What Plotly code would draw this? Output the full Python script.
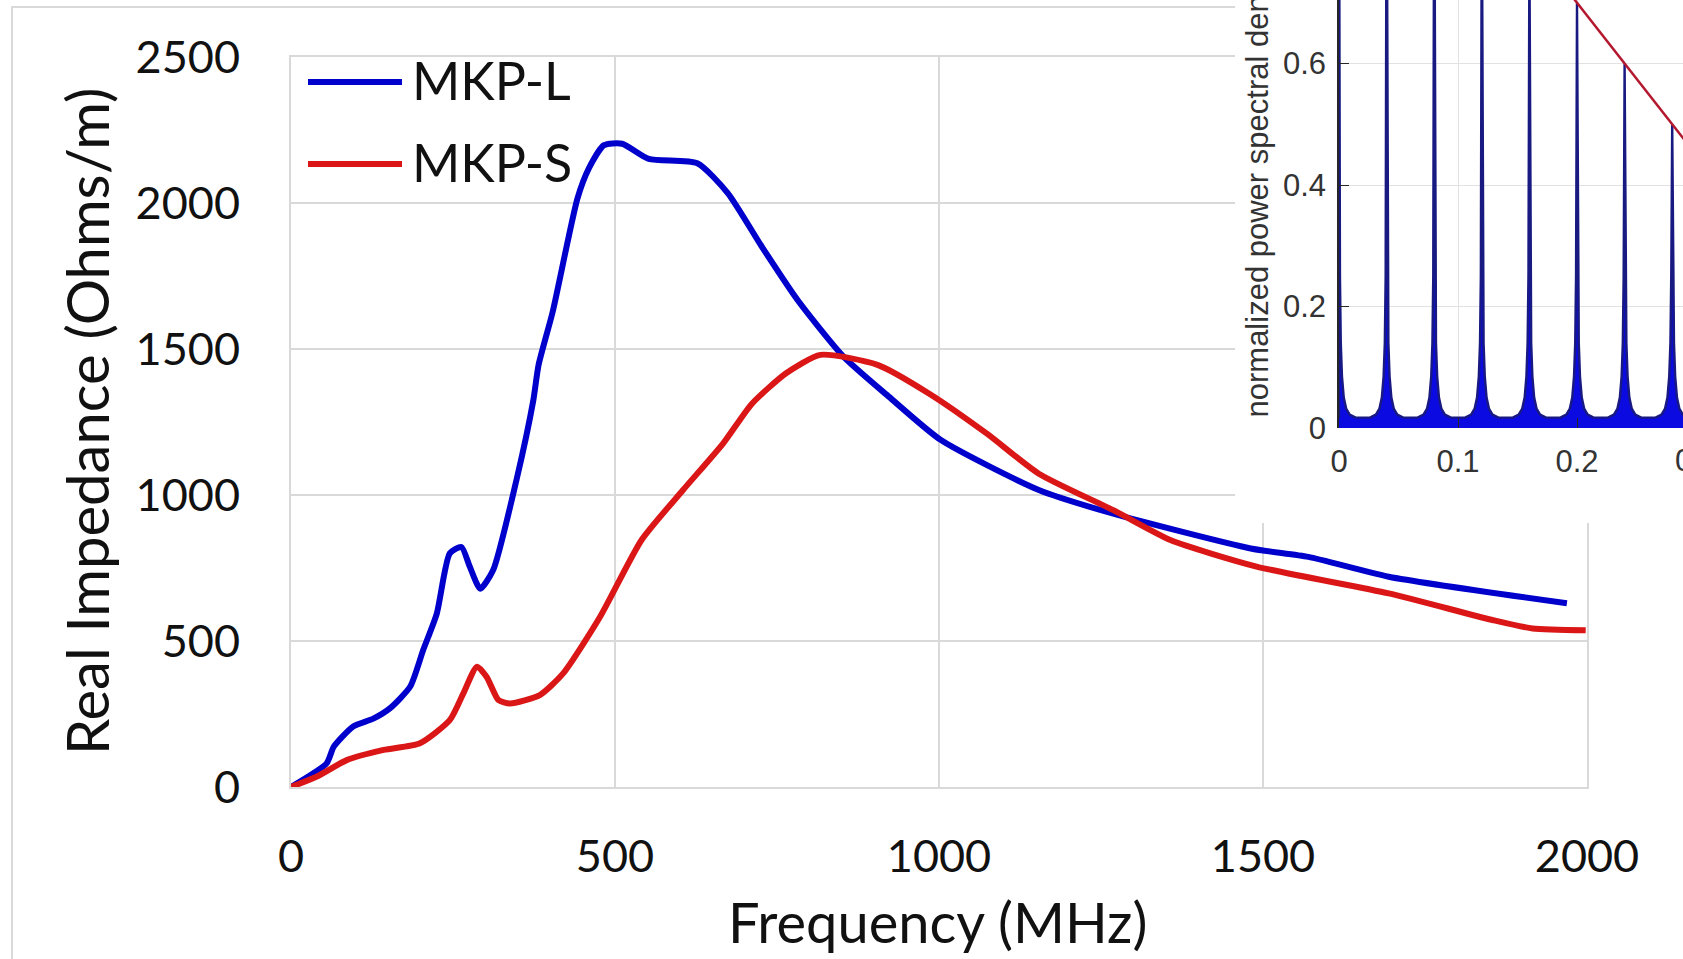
import plotly.graph_objects as go

W, H = 1683, 959

# ---------------- main chart data ----------------
mkp_l_freq = [0, 55, 66, 96, 127, 153, 184, 204, 225, 245, 263, 276, 292, 312, 348, 374, 382, 404,
              442, 460, 483, 511, 552, 627, 674, 727, 782, 853, 923, 1003, 1154, 1269, 1481, 1570,
              1694, 1969]
mkp_l_val = [0, 81, 138, 207, 234, 270, 344, 469, 594, 800, 822, 754, 679, 743, 1052, 1325, 1445, 1629,
             2015, 2120, 2198, 2203, 2151, 2136, 2034, 1849, 1667, 1473, 1336, 1188, 1017, 936, 817, 788,
             720, 629]

mkp_s_freq = [0, 40, 86, 143, 199, 245, 266, 287, 302, 320, 338, 384, 420, 477, 541, 605, 667, 711,
              764, 817, 906, 985, 1074, 1154, 1269, 1357, 1490, 1694, 1854, 1916, 1998]
mkp_s_val = [0, 36, 92, 127, 150, 229, 321, 412, 377, 298, 286, 315, 389, 583, 846, 1017, 1177, 1312,
             1417, 1480, 1445, 1347, 1210, 1073, 948, 846, 755, 663, 572, 543, 537]

x_ticks = [0, 500, 1000, 1500, 2000]
y_ticks = [0, 500, 1000, 1500, 2000, 2500]
series_names = ["MKP-L", "MKP-S"]

# ---------------- inset data ----------------
spike_pos = [0.0, 0.04, 0.08, 0.12, 0.16, 0.20, 0.24, 0.28]
spike_peak = [1.0, 1.0, 1.0, 0.9, 0.8, 0.70, 0.60, 0.50]
envelope_x = [0.15, 0.20, 0.24, 0.28, 0.30]
envelope_y = [0.825, 0.70, 0.60, 0.50, 0.45]
inset_floor = 0.017
inset_xticks = [0, 0.1, 0.2]
inset_yticks = [0, 0.2, 0.4, 0.6]

# spike profile (style): offset from spike centre -> height
prof_off = [0.014, 0.009, 0.006, 0.004, 0.0025, 0.0015, 0.0008]
prof_h = [inset_floor, 0.022, 0.032, 0.05, 0.085, 0.14, 0.25]

sx, sy = [0.0], [inset_floor]
for p, pk in zip(spike_pos, spike_peak):
    for o, h in zip(prof_off, prof_h):
        if p - o >= 0:
            sx.append(p - o); sy.append(h)
    sx.append(p); sy.append(pk)
    for o, h in zip(reversed(prof_off), reversed(prof_h)):
        sx.append(p + o); sy.append(h)
sx.append(0.30); sy.append(inset_floor)

def px(x):
    return x / W

def py(y):
    return 1 - y / H

BLUE = "rgb(0,0,205)"
RED = "rgb(218,22,22)"
GRID = "#d9d9d9"
FONT = "Lato"

fig = go.Figure()

fig.add_trace(go.Scatter(x=mkp_l_freq, y=mkp_l_val, mode="lines", name=series_names[0],
                         line=dict(color=BLUE, width=6, shape="spline", smoothing=0.6),
                         xaxis="x", yaxis="y", showlegend=False))
fig.add_trace(go.Scatter(x=mkp_s_freq, y=mkp_s_val, mode="lines", name=series_names[1],
                         line=dict(color=RED, width=6, shape="spline", smoothing=0.6),
                         xaxis="x", yaxis="y", showlegend=False))

# blocker subplot (white area of pasted inset)
fig.add_trace(go.Scatter(x=[None], y=[None], xaxis="x2", yaxis="y2", showlegend=False))

# inset
fig.add_trace(go.Scatter(x=sx, y=sy, mode="lines", fill="tozeroy",
                         fillcolor="rgb(10,10,225)",
                         line=dict(color="rgb(25,25,130)", width=2.4),
                         xaxis="x3", yaxis="y3", showlegend=False))
fig.add_trace(go.Scatter(x=envelope_x, y=envelope_y, mode="lines",
                         line=dict(color="#b3182e", width=2.5),
                         xaxis="x3", yaxis="y3", showlegend=False))

hidden = dict(showgrid=False, zeroline=False, showticklabels=False, showline=False, ticks="")

fig.update_layout(
    width=W, height=H,
    margin=dict(l=0, r=0, t=0, b=0),
    paper_bgcolor="white", plot_bgcolor="white",
    xaxis=dict(domain=[px(291), px(1587)], range=[0, 2000], tickvals=x_ticks,
               showgrid=True, gridcolor=GRID, gridwidth=1.5, zeroline=False,
               showline=True, linecolor=GRID, linewidth=2, mirror=True, ticks="",
               tickfont=dict(family=FONT, size=45, color="#111"), ticklabelstandoff=29,
               anchor="y", automargin=False),
    yaxis=dict(domain=[py(787), py(57)], range=[0, 2500], tickvals=y_ticks,
               showgrid=True, gridcolor=GRID, gridwidth=1.5, zeroline=False,
               showline=True, linecolor=GRID, linewidth=2, mirror=True, ticks="",
               tickfont=dict(family=FONT, size=45, color="#111"), ticklabelstandoff=40,
               anchor="x", automargin=False),
    xaxis2=dict(domain=[px(1235), 1], range=[0, 1], anchor="y2", **hidden),
    yaxis2=dict(domain=[py(523), 1], range=[0, 1], anchor="x2", **hidden),
    xaxis3=dict(domain=[px(1339), 1], range=[0, (W - 1339) / 1190], tickvals=inset_xticks,
                ticktext=["0", "0.1", "0.2"],
                showgrid=True, gridcolor="#e2e2e2", gridwidth=1, zeroline=False,
                showline=False, ticks="inside", ticklen=10, tickcolor="#262626",
                tickfont=dict(family="Liberation Sans", size=31, color="#333"),
                ticklabelstandoff=12, anchor="y3", automargin=False),
    yaxis3=dict(domain=[py(428), 1], range=[0, 428 / 607.5], tickvals=inset_yticks,
                ticktext=["0", "0.2", "0.4", "0.6"],
                showgrid=True, gridcolor="#e2e2e2", gridwidth=1, zeroline=False,
                showline=True, linecolor="#262626", linewidth=1.5,
                ticks="inside", ticklen=10, tickcolor="#262626",
                tickfont=dict(family="Liberation Sans", size=31, color="#333"),
                ticklabelstandoff=5, anchor="x3", automargin=False),
    showlegend=False,
)

# outer chart border
fig.add_shape(type="rect", xref="paper", yref="paper", x0=px(12), x1=1.1, y0=-0.1, y1=py(7),
              line=dict(color="#d9d9d9", width=2), layer="below")

# legend (manual, Excel style)
for name, col, yy in [(series_names[0], BLUE, 82), (series_names[1], RED, 164)]:
    fig.add_shape(type="line", xref="paper", yref="paper", x0=px(308), x1=px(402),
                  y0=py(yy), y1=py(yy), line=dict(color=col, width=6))
    fig.add_annotation(xref="paper", yref="paper", x=px(410), y=py(yy - 2), text=name,
                       showarrow=False, xanchor="left", yanchor="middle",
                       font=dict(family=FONT, size=52, color="#111"))

# axis titles
fig.add_annotation(xref="paper", yref="paper", x=px(937), y=py(921), text="Frequency (MHz)",
                   showarrow=False, xanchor="center", yanchor="middle",
                   font=dict(family=FONT, size=56, color="#111"))
fig.add_annotation(xref="paper", yref="paper", x=px(86), y=py(421), text="Real Impedance (Ohms/m)",
                   showarrow=False, textangle=-90, xanchor="center", yanchor="middle",
                   font=dict(family=FONT, size=58, color="#111"))

# inset y title (cut off at top) and partially visible 0.3 tick label
fig.add_annotation(xref="paper", yref="paper", x=px(1257), y=py(420),
                   text="normalized power spectral density",
                   showarrow=False, textangle=-90, xanchor="center", yanchor="bottom",
                   font=dict(family="Liberation Sans", size=31, color="#333"))
fig.add_annotation(xref="paper", yref="paper", x=px(1697), y=py(460), text="0.3",
                   showarrow=False, xanchor="center", yanchor="middle",
                   font=dict(family="Liberation Sans", size=31, color="#333"))

fig.write_html("out.html", config={"displayModeBar": False},
               post_script="document.body.style.margin='0';")
